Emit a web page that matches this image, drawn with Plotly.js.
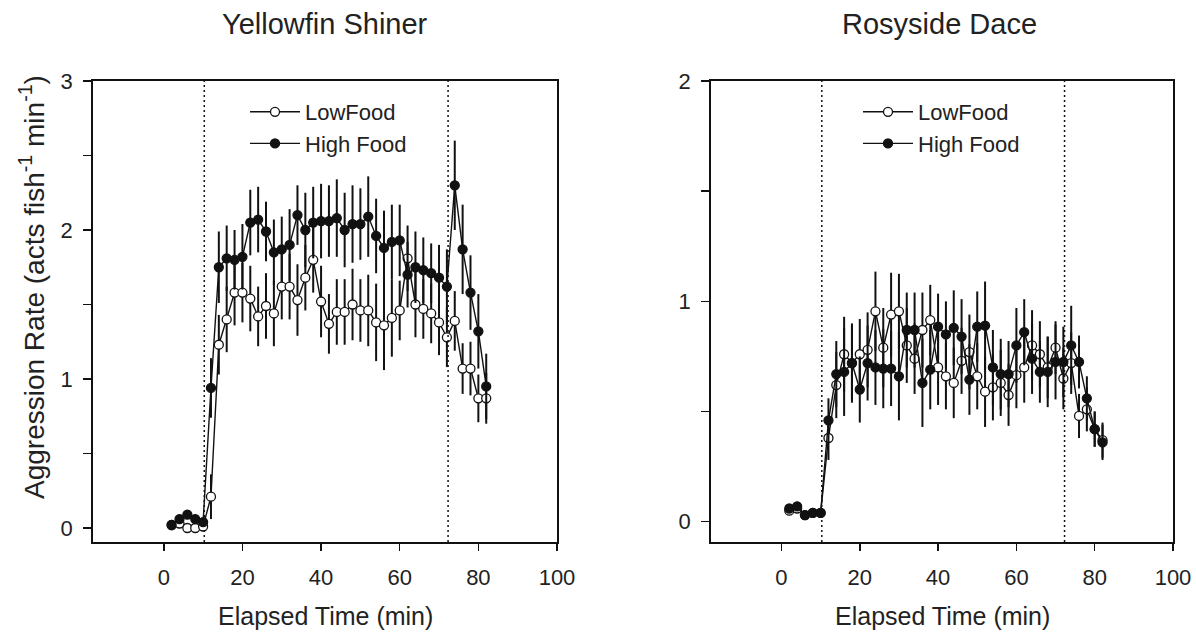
<!DOCTYPE html>
<html>
<head>
<meta charset="utf-8">
<script src="https://cdn.plot.ly/plotly-3.0.1.min.js"></script>
<style>html,body{margin:0;padding:0;background:#fff;}#chart{width:1196px;height:636px;}</style>
</head>
<body>
<div id="chart"></div>
<script>
// ---- Data ----
var timeMin = [2,4,6,8,10,12,14,16,18,20,22,24,26,28,30,32,34,36,38,40,42,44,46,48,50,52,54,56,58,60,62,64,66,68,70,72,74,76,78,80,82];

// Yellowfin Shiner
var shinerLow = [0.02,0.03,0.00,0.00,0.01,0.21,1.23,1.40,1.58,1.58,1.54,1.42,1.49,1.44,1.62,1.62,1.53,1.68,1.80,1.52,1.37,1.45,1.45,1.50,1.46,1.46,1.38,1.36,1.41,1.46,1.81,1.50,1.47,1.44,1.38,1.28,1.39,1.07,1.07,0.87,0.87];
var shinerLowErr = [0.02,0.02,0.02,0.02,0.02,0.15,0.20,0.22,0.22,0.20,0.22,0.20,0.22,0.22,0.22,0.22,0.24,0.22,0.22,0.24,0.20,0.22,0.22,0.24,0.21,0.24,0.26,0.30,0.26,0.20,0.22,0.22,0.20,0.20,0.22,0.20,0.20,0.17,0.18,0.16,0.17];
var shinerHigh = [0.02,0.06,0.09,0.06,0.04,0.94,1.75,1.81,1.80,1.82,2.05,2.07,1.99,1.85,1.87,1.90,2.10,2.00,2.05,2.06,2.06,2.08,2.00,2.04,2.04,2.09,1.96,1.88,1.92,1.93,1.70,1.75,1.73,1.71,1.68,1.62,2.30,1.87,1.58,1.32,0.95];
var shinerHighErr = [0.02,0.03,0.03,0.03,0.02,0.20,0.24,0.22,0.20,0.22,0.22,0.22,0.20,0.22,0.22,0.24,0.20,0.25,0.24,0.25,0.24,0.26,0.25,0.26,0.24,0.27,0.25,0.25,0.25,0.24,0.22,0.24,0.22,0.20,0.22,0.25,0.30,0.30,0.25,0.25,0.22];

// Rosyside Dace
var daceLow = [0.05,0.06,0.03,0.04,0.04,0.38,0.62,0.76,0.72,0.76,0.78,0.955,0.79,0.94,0.955,0.80,0.74,0.87,0.915,0.70,0.66,0.63,0.73,0.77,0.66,0.59,0.61,0.63,0.575,0.665,0.70,0.80,0.76,0.70,0.79,0.65,0.72,0.48,0.51,0.42,0.37];
var daceLowErr = [0.02,0.02,0.02,0.02,0.02,0.10,0.15,0.17,0.17,0.16,0.17,0.18,0.18,0.19,0.17,0.17,0.16,0.17,0.16,0.17,0.15,0.16,0.15,0.17,0.15,0.16,0.15,0.15,0.14,0.15,0.16,0.16,0.15,0.14,0.12,0.14,0.14,0.10,0.10,0.08,0.08];
var daceHigh = [0.06,0.07,0.03,0.04,0.04,0.46,0.67,0.68,0.72,0.60,0.72,0.70,0.695,0.695,0.66,0.87,0.87,0.63,0.69,0.885,0.85,0.88,0.84,0.645,0.885,0.89,0.70,0.67,0.67,0.80,0.86,0.74,0.68,0.68,0.725,0.725,0.80,0.725,0.56,0.42,0.36];
var daceHighErr = [0.02,0.02,0.02,0.02,0.02,0.10,0.15,0.20,0.18,0.15,0.17,0.17,0.18,0.17,0.20,0.17,0.17,0.20,0.18,0.15,0.15,0.17,0.17,0.16,0.16,0.20,0.17,0.16,0.15,0.17,0.15,0.16,0.14,0.16,0.17,0.16,0.18,0.12,0.10,0.08,0.08];

// Treatment markers (minutes)
var feedStart = 10.3;
var feedEnd = 72.3;

var seriesNames = ['LowFood', 'High Food'];
var panelTitles = ['Yellowfin Shiner', 'Rosyside Dace'];
var xTitle = 'Elapsed Time (min)';
var yTitle = 'Aggression Rate (acts fish<sup>-1</sup> min<sup>-1</sup>)';
var xTickVals = [0,20,40,60,80,100];
var yTickValsL = [0,1,2,3];
var yTickValsR = [0,1,2];

// ---- Styling ----
var FONT = '"Liberation Sans", Arial, sans-serif';
var INK = '#111';
var W = 1196, H = 636;
function px2x(p){ return p / W; }
function px2y(p){ return 1 - p / H; }

function mkTrace(y, err, name, filled, xa, ya, legendId, rank){
  return {
    type: 'scatter', mode: 'lines+markers',
    x: timeMin, y: y, name: name,
    xaxis: xa, yaxis: ya, legend: legendId, legendrank: rank, legendgroup: legendId + name,
    line: {color: INK, width: 1.4},
    marker: {symbol: 'circle', size: 9, color: filled ? INK : '#fff', line: {color: INK, width: 1.3}},
    error_y: {type: 'data', array: err, visible: true, color: INK, thickness: 2, width: 0},
    cliponaxis: false
  };
}

var traces = [
  mkTrace(shinerLow, shinerLowErr, seriesNames[0], false, 'x', 'y', 'legend', 1),
  mkTrace(shinerHigh, shinerHighErr, seriesNames[1], true, 'x', 'y', 'legend', 2),
  mkTrace(daceLow, daceLowErr, seriesNames[0], false, 'x2', 'y2', 'legend2', 1),
  mkTrace(daceHigh, daceHighErr, seriesNames[1], true, 'x2', 'y2', 'legend2', 2)
];

var axX = function(domain, anchor){
  return {domain: domain, anchor: anchor, range: [-18, 100], tickvals: xTickVals,
    showline: true, linecolor: INK, linewidth: 1.8, mirror: true,
    ticks: 'outside', ticklen: 7, tickwidth: 1.5, tickcolor: INK,
    showgrid: false, zeroline: false, ticklabelstandoff: 8,
    tickfont: {family: FONT, size: 22, color: '#222'}};
};
var axY = function(domain, anchor, range, vals){
  return {domain: domain, anchor: anchor, range: range, tickvals: vals,
    showline: true, linecolor: INK, linewidth: 1.8, mirror: true,
    ticks: 'outside', ticklen: 8, tickwidth: 1.5, tickcolor: INK,
    minor: {tick0: 0, dtick: 0.5, ticks: 'outside', ticklen: 8, tickwidth: 1.5, tickcolor: INK, showgrid: false},
    showgrid: false, zeroline: false, ticklabelstandoff: 6,
    tickfont: {family: FONT, size: 22, color: '#222'}};
};

var yDom = [px2y(542), px2y(81)];

function vline(xv, xa){
  return {type: 'line', xref: xa, yref: (xa === 'x' ? 'y' : 'y2') + ' domain', x0: xv, x1: xv, y0: 0, y1: 1,
    line: {color: INK, width: 1.5, dash: '2px,3px'}};
}

var legendBase = {xanchor: 'left', yanchor: 'top', bgcolor: 'rgba(0,0,0,0)', borderwidth: 0,
  font: {family: FONT, size: 22, color: '#222'}, itemwidth: 50, traceorder: 'grouped', tracegroupgap: 0};

var layout = {
  width: W, height: H,
  margin: {l: 0, r: 0, t: 0, b: 0},
  paper_bgcolor: '#fff', plot_bgcolor: '#fff',
  showlegend: true,
  xaxis: axX([px2x(93), px2x(557)], 'y'),
  yaxis: axY(yDom, 'x', [-0.094, 3], yTickValsL),
  xaxis2: axX([px2x(711), px2x(1173)], 'y2'),
  yaxis2: axY(yDom, 'x2', [-0.092, 2], yTickValsR),
  legend: Object.assign({}, legendBase, {x: px2x(245), y: px2y(91)}),
  legend2: Object.assign({}, legendBase, {x: px2x(858), y: px2y(91)}),
  shapes: [vline(feedStart, 'x'), vline(feedEnd, 'x'), vline(feedStart, 'x2'), vline(feedEnd, 'x2')],
  annotations: [
    {text: panelTitles[0], xref: 'paper', yref: 'paper', x: px2x(325), y: px2y(24), xanchor: 'center', yanchor: 'middle', showarrow: false, font: {family: FONT, size: 29, color: '#222'}},
    {text: panelTitles[1], xref: 'paper', yref: 'paper', x: px2x(939), y: px2y(24), xanchor: 'center', yanchor: 'middle', showarrow: false, font: {family: FONT, size: 29, color: '#222'}},
    {text: xTitle, xref: 'paper', yref: 'paper', x: px2x(325), y: px2y(616), xanchor: 'center', yanchor: 'middle', showarrow: false, font: {family: FONT, size: 25, color: '#222'}},
    {text: xTitle, xref: 'paper', yref: 'paper', x: px2x(942), y: px2y(616), xanchor: 'center', yanchor: 'middle', showarrow: false, font: {family: FONT, size: 25, color: '#222'}},
    {text: yTitle, xref: 'paper', yref: 'paper', x: px2x(32), y: px2y(287), xanchor: 'center', yanchor: 'middle', textangle: -90, showarrow: false, font: {family: FONT, size: 28, color: '#222'}}
  ]
};

Plotly.newPlot('chart', traces, layout, {displayModeBar: false, staticPlot: true});
</script>
</body>
</html>
